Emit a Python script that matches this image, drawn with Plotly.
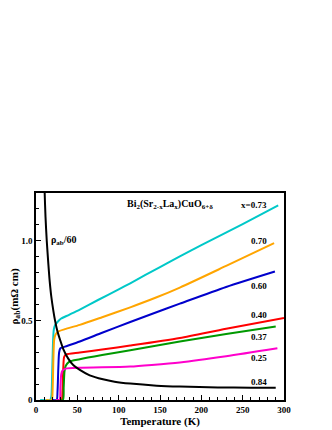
import plotly.graph_objects as go

# ---- data ----
T_073 = [5, 17, 18.5, 19.5, 20.5, 21.5, 23, 26, 30, 40, 53, 75, 100, 114, 150, 174, 200, 250, 293]
R_073 = [0, 0, 0.02, 0.15, 0.35, 0.44, 0.47, 0.49, 0.51, 0.535, 0.568, 0.628, 0.695, 0.733, 0.835, 0.902, 0.972, 1.105, 1.222]

T_070 = [12, 19, 20, 21, 22, 23.5, 27, 35, 53, 80, 114, 146, 174, 230, 288]
R_070 = [0, 0, 0.05, 0.25, 0.38, 0.41, 0.43, 0.445, 0.472, 0.52, 0.582, 0.645, 0.706, 0.842, 0.985]

T_060 = [20, 25, 26, 27, 28, 29.5, 35, 53, 80, 114, 140, 174, 230, 289]
R_060 = [0, 0, 0.05, 0.2, 0.3, 0.325, 0.335, 0.367, 0.422, 0.49, 0.54, 0.605, 0.71, 0.807]

T_040 = [26, 31, 32, 33, 34, 36, 53, 80, 114, 174, 230, 300]
R_040 = [0, 0, 0.05, 0.2, 0.27, 0.285, 0.298, 0.317, 0.342, 0.39, 0.448, 0.515]

T_037 = [26, 32.5, 33.5, 34.5, 36, 40, 53, 80, 114, 174, 230, 290]
R_037 = [0, 0, 0.08, 0.18, 0.215, 0.24, 0.256, 0.282, 0.312, 0.367, 0.415, 0.461]

T_025 = [24, 28.5, 29.5, 30.5, 32, 36, 53, 80, 114, 140, 174, 230, 292]
R_025 = [0, 0, 0.08, 0.16, 0.185, 0.197, 0.203, 0.205, 0.21, 0.22, 0.236, 0.275, 0.325]

T_084 = [9.8, 10.5, 11.5, 13, 15, 16.5, 18.5, 21, 23, 26, 29, 33, 39, 45, 53, 65, 81, 95, 114, 146, 174, 220, 260, 290]
R_084 = [1.45, 1.3, 1.15, 1.0, 0.85, 0.75, 0.65, 0.56, 0.5, 0.43, 0.38, 0.32, 0.26, 0.22, 0.189, 0.155, 0.13, 0.115, 0.103, 0.09, 0.084, 0.079, 0.077, 0.077]

series_T = [T_073, T_070, T_060, T_040, T_037, T_025, T_084]
series_R = [R_073, R_070, R_060, R_040, R_037, R_025, R_084]
series_names = ["x=0.73", "0.70", "0.60", "0.40", "0.37", "0.25", "0.84"]
series_colors = ["#00c8c8", "#ffa500", "#0000cc", "#ff0000", "#009900", "#ff00cc", "#000000"]
label_y = [1.226, 1.0, 0.719, 0.535, 0.394, 0.262, 0.111]

x_tickvals = [0, 50, 100, 150, 200, 250, 300]
x_ticktext = ["0", "50", "100", "150", "200", "250", "300"]
y_tickvals = [0, 0.5, 1.0]
y_ticktext = ["0", "0.5", "1.0"]

FONT = "Liberation Serif"

fig = go.Figure()
for t, r, n, c in zip(series_T, series_R, series_names, series_colors):
    fig.add_trace(go.Scatter(x=t, y=r, mode="lines", name=n,
                             line=dict(color=c, width=2, shape="spline", smoothing=0.7),
                             showlegend=False))

for n, yv in zip(series_names, label_y):
    fig.add_annotation(x=282, y=yv, text="<b>" + n + "</b>", showarrow=False,
                       xanchor="right", yanchor="middle",
                       font=dict(family=FONT, size=9, color="black"))

fig.add_annotation(x=162, y=1.226,
                   text="<b>Bi<sub>2</sub>(Sr<sub>2-x</sub>La<sub>x</sub>)CuO<sub>6+δ</sub></b>",
                   showarrow=False, xanchor="center", yanchor="middle",
                   font=dict(family=FONT, size=10, color="black"))
fig.add_annotation(x=16, y=1.0, text="<b>ρ<sub>ab</sub>/60</b>", showarrow=False,
                   xanchor="left", yanchor="middle",
                   font=dict(family=FONT, size=10, color="black"))

fig.update_layout(
    width=332, height=430,
    margin=dict(l=28, r=56, t=185, b=38),
    paper_bgcolor="white", plot_bgcolor="white",
    font=dict(family=FONT, color="black"),
)
fig.update_xaxes(
    range=[0, 300], showgrid=False, zeroline=False, automargin=False,
    showline=True, linecolor="black", linewidth=1.5, mirror=True,
    ticks="inside", ticklen=5, tickwidth=1.2, tickcolor="black",
    tickvals=x_tickvals, ticktext=x_ticktext,
    tickfont=dict(family=FONT, size=9, color="black", weight="bold"),
    minor=dict(dtick=10, ticks="inside", ticklen=3, tickwidth=1, tickcolor="black"),
    title=dict(text="<b>Temperature (K)</b>", font=dict(family=FONT, size=11, color="black"), standoff=3),
)
fig.update_yaxes(
    range=[0, 1.3], showgrid=False, zeroline=False, automargin=False,
    showline=True, linecolor="black", linewidth=1.5, mirror=True,
    ticks="inside", ticklen=5, tickwidth=1.2, tickcolor="black",
    tickvals=y_tickvals, ticktext=y_ticktext,
    tickfont=dict(family=FONT, size=9, color="black", weight="bold"),
    minor=dict(dtick=0.1, ticks="inside", ticklen=3, tickwidth=1, tickcolor="black"),
    title=dict(text="<b>ρ<sub>ab</sub>(mΩ cm)</b>", font=dict(family=FONT, size=11, color="black"), standoff=0),
)

fig.write_html("out.html")
